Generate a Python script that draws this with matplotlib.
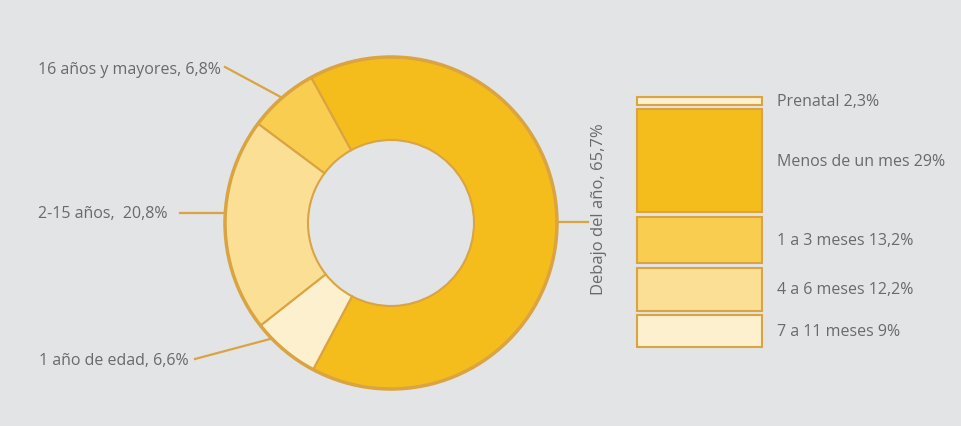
import matplotlib.pyplot as plt
import matplotlib.transforms as mtransforms
import numpy as np

plt.rcParams['font.family'] = ['Open Sans', 'DejaVu Sans']

# donut data (counterclockwise from bottom-left)
ages = ['Debajo del año, 65,7%', '16 años y mayores, 6,8%', '2-15 años,  20,8%', '1 año de edad, 6,6%']
age_vals = [65.7, 6.8, 20.8, 6.6]
age_colors = ['#F5BD1B', '#F9CD50', '#FBDF95', '#FDF0CF']

# stacked bar data (top to bottom)
months = ['Prenatal 2,3%', 'Menos de un mes 29%', '1 a 3 meses 13,2%', '4 a 6 meses 12,2%', '7 a 11 meses 9%']
month_vals = [2.3, 29, 13.2, 12.2, 9]
month_colors = ['#FDF0CF', '#F5BD1B', '#F9CD50', '#FBDF95', '#FDF0CF']

bg = '#E3E4E6'
edge = '#D9A441'
txt = '#6A6A6A'
H = 427
fs = 11.5

fig = plt.figure(figsize=(9.62, 4.27), dpi=100, facecolor=bg)
ax = fig.add_axes([0, 0, 1, 1])
ax.set_facecolor(bg)

cx, cy, R = 391, H - 224, 166
wedges, _ = ax.pie(age_vals, colors=age_colors, startangle=242, counterclock=True,
                   center=(cx, cy), radius=R, frame=True,
                   wedgeprops=dict(width=R * 0.5, edgecolor=edge, linewidth=1.5))
ax.add_patch(plt.Circle((cx, cy), R, fill=False, ec=edge, lw=2.5))
ax.set_xlim(0, 962)
ax.set_ylim(0, H)
ax.set_aspect('equal')
ax.axis('off')

def edge_point(w, shift=0):
    a = np.deg2rad((w.theta1 + w.theta2) / 2 + shift)
    return cx + R * np.cos(a), cy + R * np.sin(a)

# 16 años
ex, ey = edge_point(wedges[1])
ax.plot([225, ex], [H - 68, ey], color=edge, lw=1.6)
ax.text(221, H - 70, ages[1], ha='right', va='center', fontsize=fs, color=txt)

# 2-15 años: horizontal leader
ly = H - 214
ex = cx - np.sqrt(R ** 2 - (ly - cy) ** 2)
ax.plot([180, ex], [ly, ly], color=edge, lw=1.6)
ax.text(168, ly, ages[2], ha='right', va='center', fontsize=fs, color=txt)

# 1 año
ex, ey = edge_point(wedges[3], shift=-6)
ax.plot([195, ex], [H - 360, ey], color=edge, lw=1.6)
ax.text(189, H - 361, ages[3], ha='right', va='center', fontsize=fs, color=txt)

# Debajo del año
ex, ey = edge_point(wedges[0])
ax.plot([ex, 588], [ey, ey], color=edge, lw=1.6)
ax.text(599, H - 209, ages[0], rotation=90, ha='center', va='center', fontsize=12, color=txt)

# stacked bar
gap = 1.2
total = sum(month_vals) + gap * (len(month_vals) - 1)
bx = fig.add_axes([637 / 962, (H - 348) / H, 125 / 962, 250 / H])
bx.set_xlim(0, 1)
bx.set_ylim(0, total)
bx.axis('off')
top = total
trans = mtransforms.blended_transform_factory(bx.transAxes, bx.transData)
for lab, v, c in zip(months, month_vals, month_colors):
    bottom = top - v
    bx.bar(0.5, v, bottom=bottom, width=1, color=c, edgecolor=edge, linewidth=1.5, clip_on=False)
    bx.text(1.12, bottom + v / 2, lab, transform=trans, ha='left', va='center', fontsize=fs, color=txt)
    top = bottom - gap

fig.savefig('out.png', dpi=100, facecolor=bg)
